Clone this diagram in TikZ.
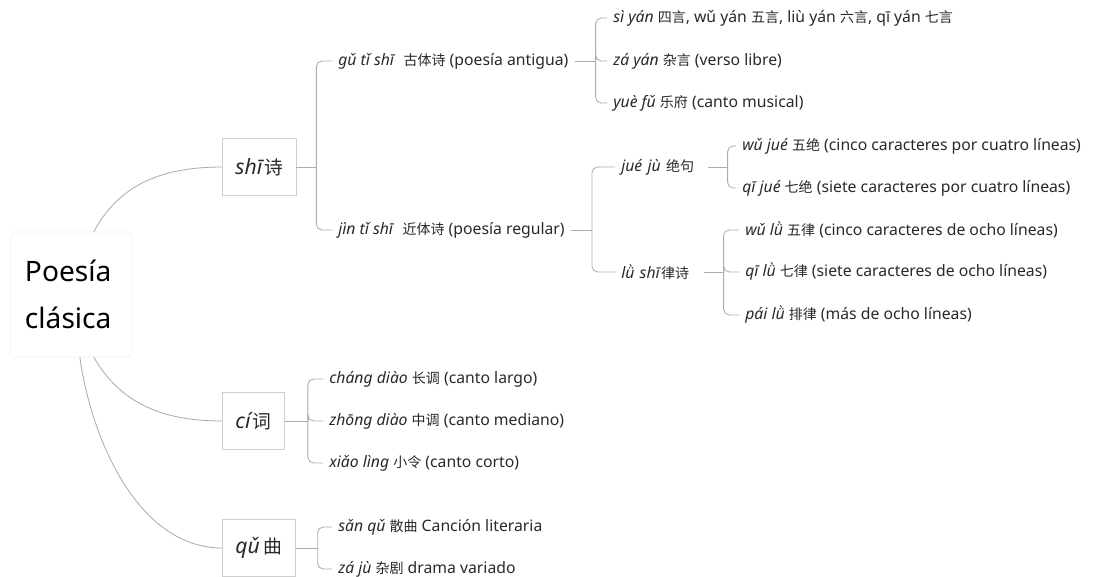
\documentclass[tikz,border=0pt]{standalone}
\usepackage{fontspec}
\setmainfont{Noto Sans}
\newfontfamily\zh[Scale=0.89]{Noto Sans CJK SC}
\usetikzlibrary{positioning}
\definecolor{LinkGray}{RGB}{172,172,172}
\definecolor{BoxGray}{RGB}{206,206,206}
\definecolor{RootGray}{RGB}{240,240,240}
\definecolor{InkGray}{RGB}{40,40,40}
\tikzset{
  rootbox/.style={
    draw=RootGray,
    fill=white,
    rounded corners=3pt,
    minimum height=3.125cm,
    inner xsep=0.375cm,
    text width=2.3cm,
    align=left,
    font=\fontsize{20}{33}\selectfont
  },
  catbox/.style={
    draw=BoxGray,
    fill=white,
    anchor=west,
    minimum height=1.425cm,
    inner xsep=0.33cm,
    text=InkGray,
    font=\fontsize{15}{17}\selectfont
  },
  leaf/.style={
    anchor=west,
    inner xsep=0.15cm,
    inner ysep=2pt,
    text=InkGray,
    font=\fontsize{11.2}{13}\selectfont
  },
  link/.style={draw=LinkGray,line width=0.6pt},
  fork/.style={link,rounded corners=4pt}
}

\begin{document}
\begin{tikzpicture}[x=0.025cm,y=-0.025cm]
    \useasboundingbox (0,0) rectangle (1096,577);
    \node[rootbox] (root) at (71,294.5) {Poesía\\clásica};
    \node[catbox] (shi) at (222,167) {\textit{shī}{\zh 诗}};
    \node[catbox] (ci) at (222,421) {\textit{cí}{\zh 词}};
    \node[catbox] (qu) at (222,548) {\textit{qǔ}\,{\zh 曲}};
    \draw[link] (root.70) to[out=62,in=180] (shi.west);
    \draw[link] (root.-70) to[out=-60,in=180] (ci.west);
    \draw[link] (root.-82) to[out=-82,in=180,looseness=0.9] (qu.west);

    \node[leaf] (gu) at (332,61) {\textit{gǔ tǐ shī}\ \ {\zh 古体诗} (poesía antigua)};
    \node[leaf] (jin) at (332,230) {\textit{jìn tǐ shī}\ \ {\zh 近体诗} (poesía regular)};
    \draw[link] (shi.east) -- ++(20,0) coordinate (shifork);
    \draw[fork] (shifork) |- (gu.west);
    \draw[fork] (shifork) |- (jin.west);

    \node[leaf] (siyan) at (607,18) {\textit{sì yán} {\zh 四言}, wǔ yán {\zh 五言}, liù yán {\zh 六言}, qī yán {\zh 七言}};
    \node[leaf] (zayan) at (607,61) {\textit{zá yán} {\zh 杂言} (verso libre)};
    \node[leaf] (yuefu) at (607,103) {\textit{yuè fǔ} {\zh 乐府} (canto musical)};
    \draw[link] (gu.east) -- ++(21,0) coordinate (gufork);
    \foreach \kid in {siyan,zayan,yuefu}
      \draw[fork] (gufork) |- (\kid.west);

    \node[leaf,text width=2cm] (jueju) at (615,167) {\textit{jué jù} {\zh 绝句}};
    \node[leaf,text width=1.9cm] (lushi) at (615,272) {\textit{lǜ shī}{\zh 律诗}};
    \draw[link] (jin.east) -- ++(21,0) coordinate (jinfork);
    \draw[fork] (jinfork) |- (jueju.west);
    \draw[fork] (jinfork) |- (lushi.west);

    \node[leaf] (wujue) at (736,146) {\textit{wǔ jué} {\zh 五绝} (cinco caracteres por cuatro líneas)};
    \node[leaf] (qijue) at (736,188) {\textit{qī jué} {\zh 七绝} (siete caracteres por cuatro líneas)};
    \draw[link] (jueju.east) -- ++(20,0) coordinate (juefork);
    \draw[fork] (juefork) |- (wujue.west);
    \draw[fork] (juefork) |- (qijue.west);

    \node[leaf] (wulu) at (739,230) {\textit{wǔ lǜ} {\zh 五律} (cinco caracteres de ocho líneas)};
    \node[leaf] (qilu) at (739,272) {\textit{qī lǜ} {\zh 七律} (siete caracteres de ocho líneas)};
    \node[leaf] (pailu) at (739,315) {\textit{pái lǜ} {\zh 排律} (más de ocho líneas)};
    \draw[link] (lushi.east) -- ++(20,0) coordinate (lufork);
    \foreach \kid in {wulu,qilu,pailu}
      \draw[fork] (lufork) |- (\kid.west);

    \node[leaf] (chang) at (323,379) {\textit{cháng diào} {\zh 长调} (canto largo)};
    \node[leaf] (zhong) at (323,421) {\textit{zhōng diào} {\zh 中调} (canto mediano)};
    \node[leaf] (xiao) at (323,463) {\textit{xiǎo lìng} {\zh 小令} (canto corto)};
    \draw[link] (ci.east) -- ++(23,0) coordinate (cifork);
    \foreach \kid in {chang,zhong,xiao}
      \draw[fork] (cifork) |- (\kid.west);

    \node[leaf] (sanqu) at (332,527) {\textit{sǎn qǔ} {\zh 散曲} Canción literaria};
    \node[leaf] (zaju) at (332,569) {\textit{zá jù} {\zh 杂剧} drama variado};
    \draw[link] (qu.east) -- ++(22,0) coordinate (qufork);
    \draw[fork] (qufork) |- (sanqu.west);
    \draw[fork] (qufork) |- (zaju.west);
  \end{tikzpicture}
\end{document}
